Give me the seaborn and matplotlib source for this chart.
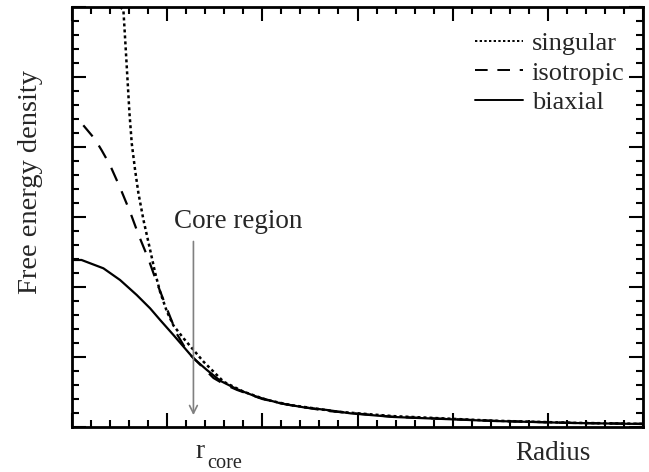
import numpy as np
import pandas as pd
import matplotlib
matplotlib.use("Agg")
import matplotlib.pyplot as plt
import matplotlib.transforms as mtransforms
from matplotlib.ticker import MultipleLocator
import seaborn as sns

# ---- data (arbitrary units) ----
singular_x = [0.505, 0.54, 0.565, 0.604, 0.628, 0.663, 0.698, 0.751, 0.821, 0.874, 0.926, 0.997,
              1.066, 1.172, 1.277, 1.382, 1.593, 1.803, 2.05, 2.295, 2.54, 2.786, 3.38, 4.43, 5.27, 6.0]
singular_y = [6.0, 5.96, 5.39, 4.48, 4.05, 3.67, 3.34, 2.957, 2.53, 2.2, 1.93, 1.65,
              1.45, 1.267, 1.1, 0.933, 0.647, 0.504, 0.386, 0.314, 0.267, 0.219, 0.155, 0.09, 0.06, 0.045]

isotropic_x = [0.119, 0.242, 0.313, 0.4, 0.505, 0.611, 0.698, 0.803, 0.892, 0.997, 1.102,
               1.21, 1.31, 1.42, 1.487, 1.6, 1.734, 2.0, 2.26, 2.68, 3.38, 4.43, 5.27, 6.0]
isotropic_y = [4.31, 4.11, 3.95, 3.74, 3.42, 3.07, 2.75, 2.40, 2.06, 1.69, 1.33,
               1.08, 0.94, 0.79, 0.70, 0.61, 0.53, 0.40, 0.32, 0.23, 0.145, 0.088, 0.058, 0.045]

biaxial_x = [0.0, 0.1, 0.33, 0.505, 0.68, 0.821, 0.926, 1.066, 1.172, 1.277, 1.418, 1.558,
             1.734, 1.944, 2.19, 2.435, 2.68, 2.926, 3.38, 4.43, 5.27, 6.0]
biaxial_y = [2.386, 2.386, 2.267, 2.1, 1.886, 1.695, 1.529, 1.314, 1.147, 0.981, 0.814, 0.66,
             0.54, 0.43, 0.338, 0.281, 0.243, 0.195, 0.143, 0.086, 0.057, 0.043]

series_names = ["singular", "isotropic", "biaxial"]
r_core = 1.276
arrow_top = 2.69
arrow_bottom = 0.13

frames = []
for name, xs, ys in [("singular", singular_x, singular_y),
                     ("isotropic", isotropic_x, isotropic_y),
                     ("biaxial", biaxial_x, biaxial_y)]:
    frames.append(pd.DataFrame({"Radius": xs, "F": ys, "kind": name}))
df = pd.concat(frames, ignore_index=True)

sns.set_style("ticks")
plt.rcParams["font.family"] = ["Liberation Serif", "DejaVu Serif"]

fig = plt.figure(figsize=(6.49, 4.72), dpi=100)
ax = fig.add_axes([72 / 649, 45 / 472, 571 / 649, 420 / 472])

styles = {"singular": (0, (1.2, 1.2)), "isotropic": (0, (6.5, 5)), "biaxial": "-"}
widths = {"singular": 1.8, "isotropic": 1.6, "biaxial": 1.6}
for name in series_names:
    sub = df[df["kind"] == name]
    sns.lineplot(data=sub, x="Radius", y="F", ax=ax, color="black",
                 linewidth=widths[name], linestyle=styles[name], label=name,
                 sort=False, estimator=None)

ax.set_xlim(0, 6)
ax.set_ylim(0, 6)
ax.xaxis.set_major_locator(MultipleLocator(1))
ax.xaxis.set_minor_locator(MultipleLocator(0.2))
ax.yaxis.set_major_locator(MultipleLocator(1))
ax.yaxis.set_minor_locator(MultipleLocator(0.2))
ax.tick_params(which="both", direction="in", top=True, right=True,
               labelbottom=False, labelleft=False, color="black", width=1.5)
ax.tick_params(which="major", length=10)
ax.tick_params(which="minor", length=5)
for s in ax.spines.values():
    s.set_linewidth(2)
    s.set_color("black")

ax.set_xlabel("")
ax.set_ylabel("Free energy density", fontsize=20.5)
ax.yaxis.set_label_coords(-0.05, 0.583)

trans = mtransforms.blended_transform_factory(ax.transData, ax.transAxes)
ax.text(5.05, -0.079, "Radius", transform=trans, ha="center", va="baseline", fontsize=19.5)
ax.text(1.295, -0.0738, "r", transform=trans, ha="left", va="baseline", fontsize=19.5)
ax.text(1.421, -0.0976, "core", transform=trans, ha="left", va="baseline", fontsize=14.6)

ax.annotate("", xy=(r_core, arrow_bottom), xytext=(r_core, arrow_top),
            arrowprops=dict(arrowstyle="->", color="#808080", lw=1.2,
                            mutation_scale=14))
ax.text(1.75, 2.84, "Core region", ha="center", va="baseline", fontsize=19.5)

leg = ax.legend(loc="upper right", bbox_to_anchor=(1.0, 0.985), frameon=False,
                fontsize=19, handlelength=1.8, handletextpad=0.35,
                labelspacing=0.22, borderaxespad=0.3)
for line in leg.get_lines():
    line.set_linewidth(1.4)

fig.savefig("out.png", dpi=100)
